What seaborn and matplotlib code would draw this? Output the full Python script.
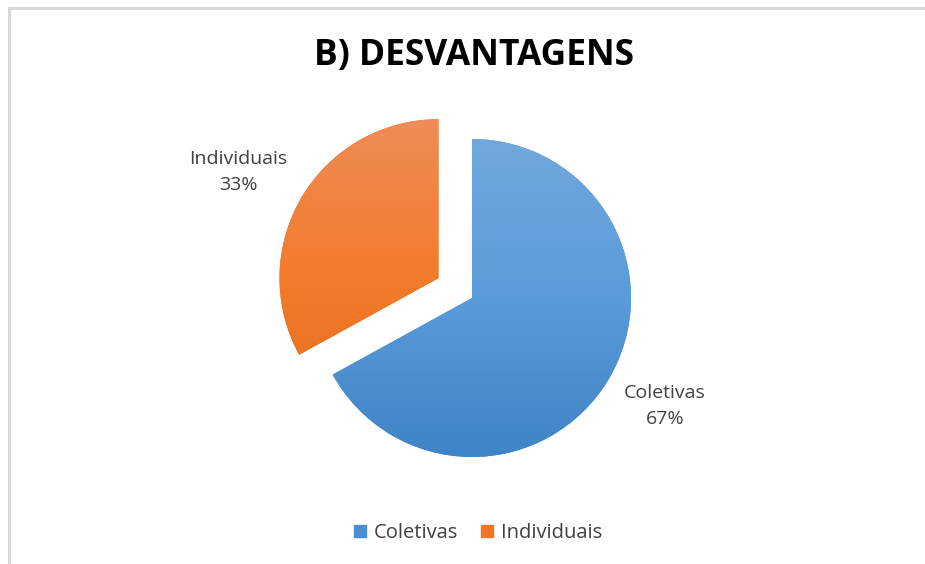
import matplotlib.pyplot as plt
import numpy as np
import seaborn as sns
from matplotlib.patches import Rectangle

# Dados do gráfico
categorias = ["Coletivas", "Individuais"]
valores = [67, 33]
percentuais = ["67%", "33%"]
titulo = "B) DESVANTAGENS"

# cores do degradê (topo, meio, base) de cada fatia
degrade = [["#72A8DD", "#5A9BDA", "#3F84C5"],
           ["#EF8C57", "#F27B2A", "#E46C1A"]]
cores_legenda = ["#4A8FD2", "#EE7626"]

sns.set_theme(style="white")
plt.rcParams["font.family"] = ["Open Sans", "DejaVu Sans"]

W, H = 925, 564
fig = plt.figure(figsize=(W / 100, H / 100), dpi=100)
ax = fig.add_axes([0, 0, 1, 1])

cx, cy, r = 472, H - 298, 159
# explode no matplotlib é em unidades de dados, então multiplica pelo raio
wedges, _ = ax.pie(
    valores,
    center=(cx, cy),
    radius=r,
    startangle=90,
    counterclock=False,
    explode=[0, 0.245 * r],
    colors=cores_legenda,
    wedgeprops=dict(linewidth=0),
)

# degradê vertical em cada fatia
for w, cores in zip(wedges, degrade):
    wx, wy = w.center
    grad = np.linspace(0, 1, 256).reshape(-1, 1)
    cmap = sns.blend_palette(cores, as_cmap=True)
    im = ax.imshow(
        grad,
        cmap=cmap,
        extent=[wx - w.r, wx + w.r, wy - w.r, wy + w.r],
        origin="upper",
        aspect="auto",
        zorder=w.get_zorder() + 0.1,
    )
    im.set_clip_path(w)

ax.set_xlim(0, W)
ax.set_ylim(0, H)
ax.set_aspect("equal")
ax.axis("off")

# moldura do gráfico
ax.add_patch(Rectangle((9, -10), W + 20, H - 8 + 10, fill=False,
                       edgecolor="#D9D9D9", linewidth=2.2))

ax.text(474, H - 56, titulo, ha="center", va="center", fontsize=25.5,
        fontweight="bold", color="black")

cor_texto = "#404040"
pos_rotulos = {"Coletivas": (665, H - 406), "Individuais": (238, H - 172)}
for cat, pct in zip(categorias, percentuais):
    x, y = pos_rotulos[cat]
    ax.text(x, y, f"{cat}\n{pct}", ha="center", va="center", fontsize=14,
            color=cor_texto, linespacing=1.6)

# legenda
handles = [plt.Rectangle((0, 0), 1, 1, color=c) for c in cores_legenda]
leg = fig.legend(handles, categorias, loc="center", bbox_to_anchor=(478 / W, 1 - 533 / H),
                 ncol=2, frameon=False, fontsize=14.5, handlelength=0.6, handleheight=0.6,
                 handletextpad=0.4, columnspacing=1.1)
for t in leg.get_texts():
    t.set_color(cor_texto)

fig.savefig("out.png", dpi=100)
